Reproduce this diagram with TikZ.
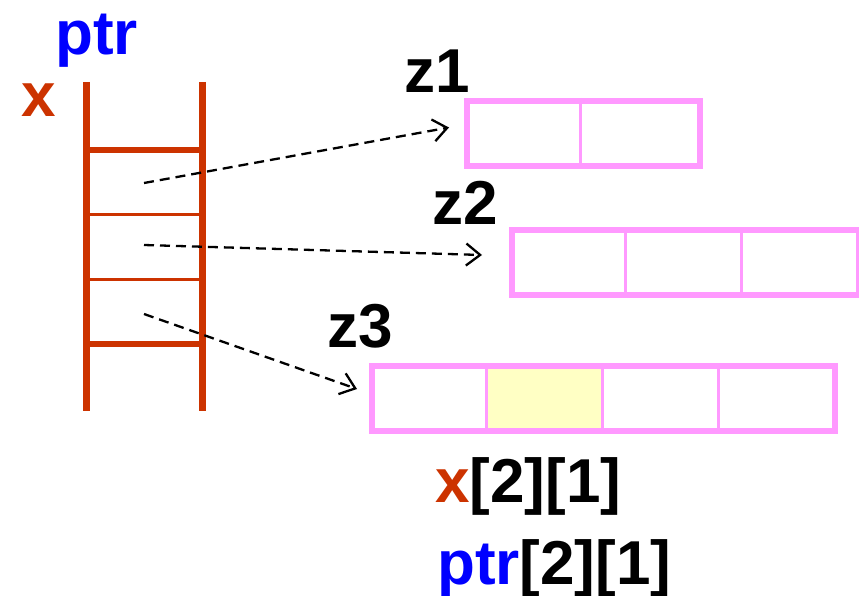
\documentclass[tikz,border=0pt]{standalone}
\usepackage{fontspec}
\setmainfont{Liberation Sans}
\usetikzlibrary{arrows.meta}
\definecolor{rust}{HTML}{CC3300}
\definecolor{cellpink}{HTML}{FF99FF}
\definecolor{pickcell}{HTML}{FFFFC4}
\begin{document}
\begin{tikzpicture}[x=1pt,y=-1pt,
  lbl/.style={inner sep=0pt,anchor=base west,font=\fontsize{62}{62}\selectfont\bfseries},
  rail/.style={draw=rust,line width=7pt},
  rungthick/.style={draw=rust,line width=6pt},
  rungthin/.style={draw=rust,line width=3pt},
  arr/.style={draw=cellpink,line width=6pt,minimum height=65pt,inner sep=0pt,anchor=north west},
  divider/.style={draw=cellpink,line width=3pt},
  ptrarrow/.style={draw=black,line width=2.3pt,dash pattern=on 10pt off 6pt,
    -{Straight Barb[length=14pt,width=22pt,line width=2.3pt]}}]
\useasboundingbox (0,0) rectangle (859,596);

% labels
\node[lbl,text=blue] (ptrlbl) at (55,55) {ptr};
\node[lbl,text=rust] (xlbl) at (21,117) {x};
\node[lbl] (z1lbl) at (404,93) {z1};
\node[lbl] (z2lbl) at (432,225) {z2};
\node[lbl] (z3lbl) at (327,347) {z3};
\node[lbl] (xidx) at (435,502) {\textcolor{rust}{x}[2][1]};
\node[lbl] (pidx) at (437,584) {\textcolor{blue}{ptr}[2][1]};

% the pointer array x / ptr
\coordinate (railLT) at (86.5,82);
\coordinate (railLB) at (86.5,411);
\coordinate (railRT) at (202.5,82);
\coordinate (railRB) at (202.5,411);
\draw[rail] (railLT) -- (railLB);
\draw[rail] (railRT) -- (railRB);
\draw[rungthick] (86.5,150) -- (202.5,150);
\draw[rungthin]  (86.5,214.5) -- (202.5,214.5);
\draw[rungthin]  (86.5,279) -- (202.5,279);
\draw[rungthick] (86.5,344) -- (202.5,344);

% the three row arrays
\node[arr,minimum width=233pt] (z1) at (464,98) {};
\node[arr,minimum width=347pt] (z2) at (509,227) {};
\node[arr,minimum width=463pt] (z3) at (369,363) {};

\fill[pickcell] (487.5,366) rectangle (600.5,428);
\draw[divider] (580.5,98) -- (580.5,163);
\draw[divider] (625.5,227) -- (625.5,292);
\draw[divider] (741.5,227) -- (741.5,292);
\draw[divider] (486,363) -- (486,428);
\draw[divider] (602,363) -- (602,428);
\draw[divider] (718,363) -- (718,428);
\node[arr,minimum width=463pt] at (369,363) {};

% pointers from the cells of x to the rows
\coordinate (s1) at (144,183);
\coordinate (s2) at (144,245);
\coordinate (s3) at (144,314);
\coordinate (t1) at (449,127.5);
\coordinate (t2) at (482,255);
\coordinate (t3) at (357,389);
\draw[ptrarrow] (s1) -- (t1);
\draw[ptrarrow] (s2) -- (t2);
\draw[ptrarrow] (s3) -- (t3);
\end{tikzpicture}
\end{document}
